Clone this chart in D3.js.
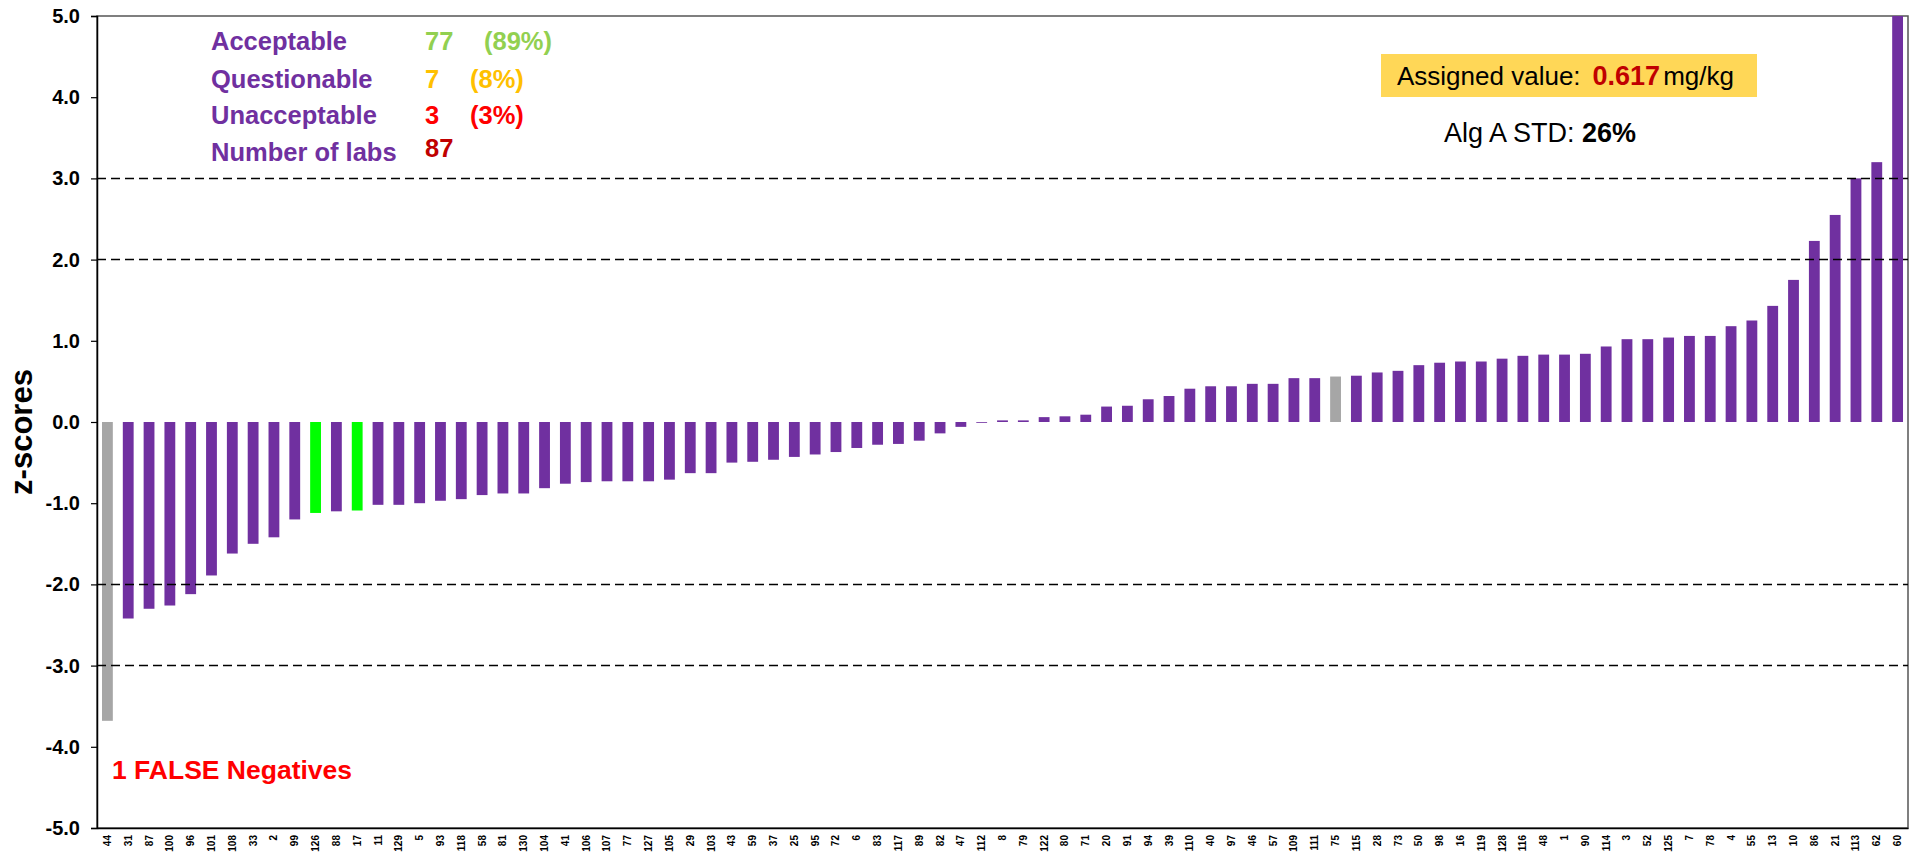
<!DOCTYPE html>
<html>
<head>
<meta charset="utf-8">
<script src="https://cdn.jsdelivr.net/npm/d3@7"></script>
<style>
    body { margin: 0; background: #fff; }
    svg text { font-family: "Liberation Sans", Arial, sans-serif; }
</style>
</head>
<body>
<svg id="chart" width="1911" height="858"></svg>
<script>
// lab codes, ordered as on the x axis
const labs = ['44', '31', '87', '100', '96', '101', '108', '33', '2', '99', '126', '88', '17', '11', '129',
    '5', '93', '118', '58', '81', '130', '104', '41', '106', '107', '77', '127', '105', '29', '103',
    '43', '59', '37', '25', '95', '72', '6', '83', '117', '89', '82', '47', '112', '8', '79', '122',
    '80', '71', '20', '91', '94', '39', '110', '40', '97', '46', '57', '109', '111', '75', '115', '28',
    '73', '50', '98', '16', '119', '128', '116', '48', '1', '90', '114', '3', '52', '125', '7', '78',
    '4', '55', '13', '10', '86', '21', '113', '62', '60'];

// z-score per lab (same order)
const zScores = [-3.68, -2.42, -2.30, -2.26, -2.12, -1.89, -1.62, -1.50, -1.42, -1.20, -1.12, -1.10, -1.09,
    -1.02, -1.02, -1.00, -0.97, -0.95, -0.90, -0.88, -0.88, -0.815, -0.76, -0.74, -0.73, -0.73, -0.73,
    -0.71, -0.63, -0.63, -0.50, -0.49, -0.465, -0.43, -0.40, -0.37, -0.32, -0.28, -0.27, -0.23, -0.14,
    -0.06, -0.01, 0.02, 0.02, 0.06, 0.07, 0.09, 0.19, 0.20, 0.28, 0.32, 0.41, 0.44, 0.44, 0.47, 0.47,
    0.54, 0.54, 0.56, 0.57, 0.61, 0.63, 0.70, 0.73, 0.745, 0.745, 0.78, 0.815, 0.83, 0.83, 0.84, 0.93,
    1.02, 1.02, 1.04, 1.06, 1.06, 1.18, 1.25, 1.43, 1.75, 2.23, 2.55, 3.00, 3.20, 5.6];

// labs highlighted in grey / green
const greyLabs = ['44', '75'];
const greenLabs = ['126', '17'];

const yTicks = [5, 4, 3, 2, 1, 0, -1, -2, -3, -4, -5];
const limitLines = [3, 2, -2, -3];

const summary = [
    { label: 'Acceptable', count: '77', pct: '(89%)', color: '#92D050' },
    { label: 'Questionable', count: '7', pct: '(8%)', color: '#FFC000' },
    { label: 'Unacceptable', count: '3', pct: '(3%)', color: '#FF0000' },
    { label: 'Number of labs', count: '87', pct: '', color: '#C00000' }
];

const svg = d3.select('#chart');
const plotLeft = 97;
const plotRight = 1908;
const plotTop = 16;
const plotBottom = 828;

const data = labs.map((lab, i) => ({ lab, z: zScores[i] }));

const x = d3.scaleBand()
    .domain(labs)
    .range([plotLeft, plotRight])
    .paddingInner(0.48)
    .paddingOuter(0.24);

const y = d3.scaleLinear()
    .domain([-5, 5])
    .range([plotBottom, plotTop])
    .clamp(true);

// plot frame
svg.append('rect')
    .attr('x', plotLeft)
    .attr('y', plotTop)
    .attr('width', plotRight - plotLeft)
    .attr('height', plotBottom - plotTop)
    .attr('fill', 'none')
    .attr('stroke', '#555')
    .attr('stroke-width', 1.5);

const barColor = (d) => {
    if (greyLabs.includes(d.lab)) return '#A6A6A6';
    if (greenLabs.includes(d.lab)) return '#00FF00';
    return '#7030A0';
};

svg.append('g')
    .selectAll('rect')
    .data(data)
    .enter()
    .append('rect')
    .attr('x', (d) => x(d.lab))
    .attr('width', x.bandwidth())
    .attr('y', (d) => Math.min(y(d.z), y(0)))
    .attr('height', (d) => Math.abs(y(d.z) - y(0)))
    .attr('fill', barColor);

// dashed limit lines at +-2, +-3
svg.append('g')
    .selectAll('line')
    .data(limitLines)
    .enter()
    .append('line')
    .attr('x1', plotLeft)
    .attr('x2', plotRight)
    .attr('y1', (d) => y(d))
    .attr('y2', (d) => y(d))
    .attr('stroke', '#000')
    .attr('stroke-width', 1.5)
    .attr('stroke-dasharray', '9,5');

// y axis (plain hyphen for negatives, like the original)
const yAxis = svg.append('g')
    .attr('transform', `translate(${plotLeft},0)`)
    .call(d3.axisLeft(y).tickValues(yTicks).tickFormat((d) => d.toFixed(1))
        .tickSizeOuter(0).tickSize(6).tickPadding(11));
yAxis.select('.domain').attr('stroke', '#000').attr('stroke-width', 1.5);
yAxis.selectAll('.tick line').attr('stroke', '#000').attr('stroke-width', 1.2);
yAxis.selectAll('.tick text')
    .attr('font-size', 20)
    .attr('font-weight', 'bold')
    .attr('fill', '#000')
    .style('font-family', '"Liberation Sans", Arial, sans-serif');

// x axis
const xAxis = svg.append('g')
    .attr('transform', `translate(0,${plotBottom})`)
    .call(d3.axisBottom(x).tickSize(0).tickSizeOuter(0));
xAxis.select('.domain').attr('stroke', '#000').attr('stroke-width', 1.5);
xAxis.selectAll('.tick text')
    .attr('transform', 'rotate(-90)')
    .attr('x', -7)
    .attr('y', 0)
    .attr('dy', '0.35em')
    .attr('text-anchor', 'end')
    .attr('font-size', 10)
    .attr('font-weight', 'bold')
    .attr('fill', '#000')
    .style('font-family', '"Liberation Sans", Arial, sans-serif');

// axis title
svg.append('text')
    .attr('transform', 'translate(32,432) rotate(-90)')
    .attr('text-anchor', 'middle')
    .attr('font-size', 31)
    .attr('font-weight', 'bold')
    .attr('fill', '#000')
    .text('z-scores');

// summary block
const rowY = [50, 88, 124, 161];
summary.forEach((row, i) => {
    svg.append('text')
        .attr('x', 211)
        .attr('y', rowY[i])
        .attr('font-size', 25.5)
        .attr('font-weight', 'bold')
        .attr('fill', '#7030A0')
        .text(row.label);
    svg.append('text')
        .attr('x', 425)
        .attr('y', i === 3 ? rowY[i] - 4 : rowY[i])
        .attr('font-size', 25.5)
        .attr('font-weight', 'bold')
        .attr('fill', row.color)
        .text(row.count);
    svg.append('text')
        .attr('x', i === 0 ? 484 : 470)
        .attr('y', rowY[i])
        .attr('font-size', 25.5)
        .attr('font-weight', 'bold')
        .attr('fill', row.color)
        .text(row.pct);
});

// assigned value box
svg.append('rect')
    .attr('x', 1381)
    .attr('y', 54)
    .attr('width', 376)
    .attr('height', 43)
    .attr('fill', '#FFD757');

const assigned = svg.append('text')
    .attr('x', 1397)
    .attr('y', 85)
    .attr('font-size', 26)
    .attr('fill', '#000');
assigned.append('tspan').text('Assigned value:');
assigned.append('tspan').attr('dx', 12).attr('font-weight', 'bold').attr('fill', '#C00000')
    .attr('font-size', 27).text('0.617');
assigned.append('tspan').attr('dx', 3).text('mg/kg');

const std = svg.append('text')
    .attr('x', 1444)
    .attr('y', 142)
    .attr('font-size', 27)
    .attr('fill', '#000');
std.append('tspan').text('Alg A STD: ');
std.append('tspan').attr('font-weight', 'bold').text('26%');

svg.append('text')
    .attr('x', 112)
    .attr('y', 779)
    .attr('font-size', 26.5)
    .attr('font-weight', 'bold')
    .attr('fill', '#FF0000')
    .text('1 FALSE Negatives');
</script>
</body>
</html>
